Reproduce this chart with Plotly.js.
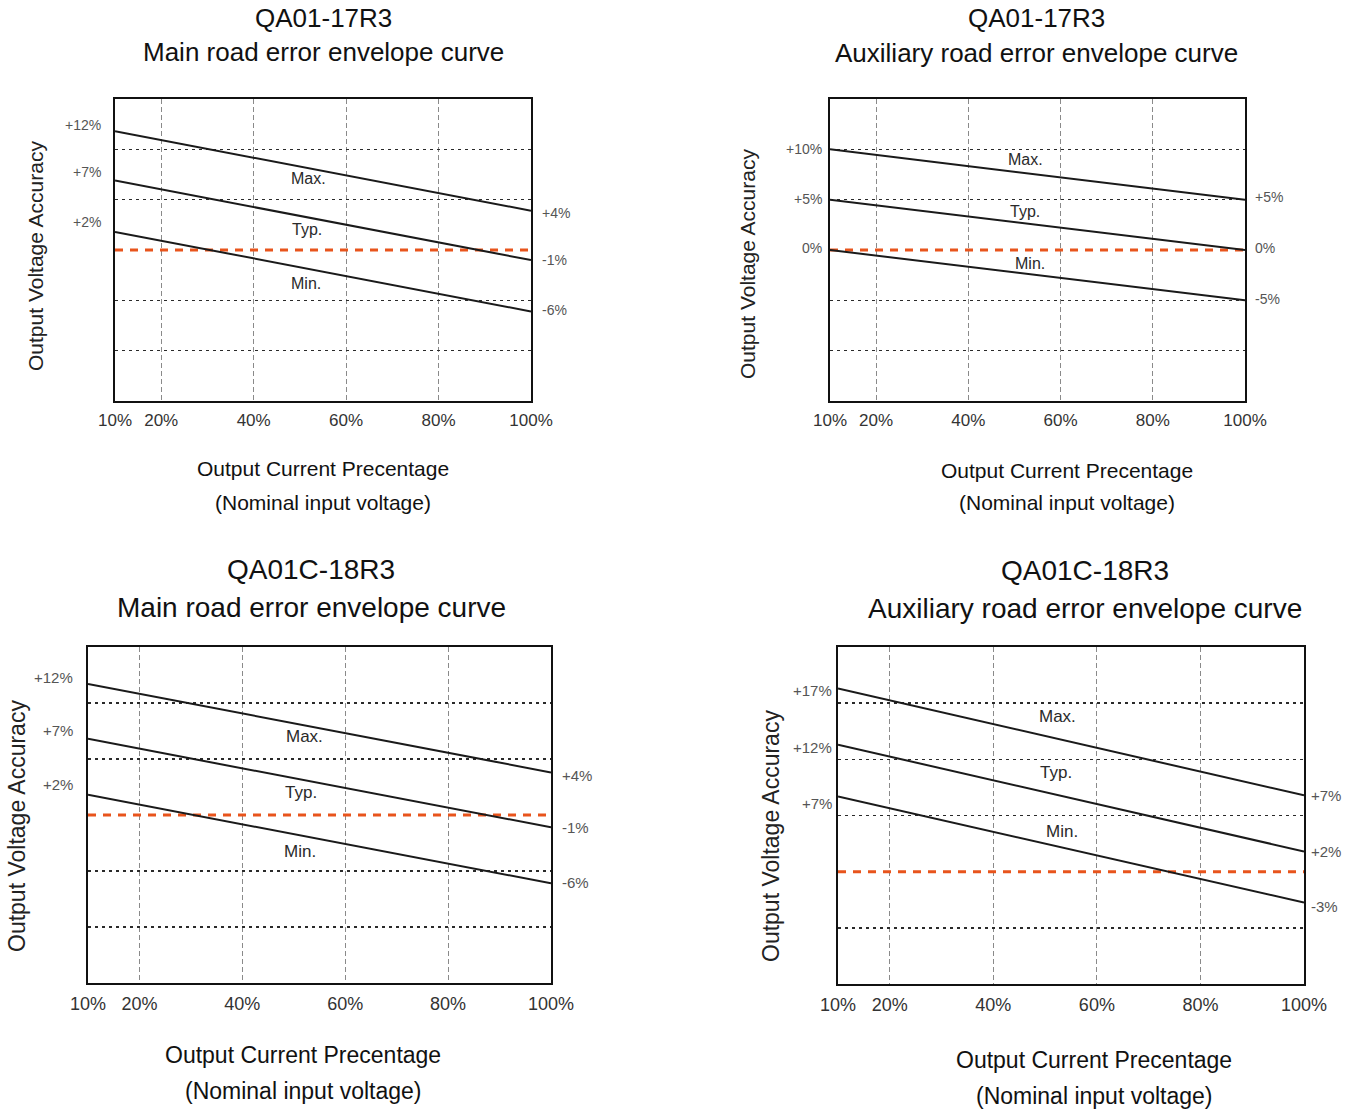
<!DOCTYPE html>
<html><head><meta charset="utf-8">
<script src="https://cdn.plot.ly/plotly-3.0.1.min.js"></script>
<style>html,body{margin:0;padding:0;background:#fff}</style>
</head><body><div id="chart" style="width:1353px;height:1112px"></div>
<script>
// ---------- data ----------
const loadPct = [10, 100];                       // output current percentage (line ends)
const xTickVals = [10, 20, 40, 60, 80, 100];
const xTickText = ['10%', '20%', '40%', '60%', '80%', '100%'];
const seriesNames = ['Max.', 'Typ.', 'Min.'];
const baseline = [0, 0];

// QA01-17R3 main road
const p1Max = [11.8, 3.9], p1Typ = [6.9, -1.0], p1Min = [1.8, -6.1];
const p1LeftText = ['+12%', '+7%', '+2%'], p1RightText = ['+4%', '-1%', '-6%'];
// QA01-17R3 auxiliary road
const p2Max = [10, 5], p2Typ = [5, 0], p2Min = [0, -5];
const p2LeftText = ['+10%', '+5%', '0%'], p2RightText = ['+5%', '0%', '-5%'];
// QA01C-18R3 main road
const p3Max = [11.7, 3.8], p3Typ = [6.8, -1.1], p3Min = [1.8, -6.1];
const p3LeftText = ['+12%', '+7%', '+2%'], p3RightText = ['+4%', '-1%', '-6%'];
// QA01C-18R3 auxiliary road
const p4Max = [16.3, 6.8], p4Typ = [11.3, 1.8], p4Min = [6.7, -2.75];
const p4LeftText = ['+17%', '+12%', '+7%'], p4RightText = ['+7%', '+2%', '-3%'];

const titleModels = ['QA01-17R3', 'QA01-17R3', 'QA01C-18R3', 'QA01C-18R3'];
const titleCurves = ['Main road error envelope curve', 'Auxiliary road error envelope curve',
                     'Main road error envelope curve', 'Auxiliary road error envelope curve'];
const yTitle = 'Output Voltage Accuracy';
const xTitle1 = 'Output Current Precentage';
const xTitle2 = '(Nominal input voltage)';

// ---------- layout config (positions / styles) ----------
const W = 1353, H = 1112;
const px = v => v / W, py = v => 1 - v / H;
const FONT = 'Liberation Sans, Arial, sans-serif';
const NARROW = 'Liberation Sans Narrow, Arial Narrow, Liberation Sans, Arial, sans-serif';

const panels = [
  { series: [p1Max, p1Typ, p1Min], left: p1LeftText, right: p1RightText,
    box: [115, 531, 99, 401], yrange: [-15, 15], grid: [-10, -5, 5, 10],
    title: [323, 18, 52, 26], ytitle: [35, 256, 21], xtitle: [323, 469, 503, 21],
    tickSize: 17, lblSize: 16, edgeSize: 14,
    lblPos: [[51.8, 7.1], [51.5, 2.0], [51.3, -3.3]],
    leftShift: [6, 9, 10], rightShift: [-2, 0, 1], leftX: -12, rightX: 9 },
  { series: [p2Max, p2Typ, p2Min], left: p2LeftText, right: p2RightText,
    box: [830, 1245, 99, 401], yrange: [-15, 15], grid: [-10, -5, 5, 10],
    title: [1036, 18, 53, 26], ytitle: [748, 264, 21], xtitle: [1067, 470, 503, 21],
    tickSize: 17, lblSize: 16, edgeSize: 14,
    lblPos: [[52.5, 9.0], [52.3, 3.8], [53.4, -1.3]],
    leftShift: [0, 1, 2], rightShift: [3, 2, 1], leftX: -6, rightX: 8 },
  { series: [p3Max, p3Typ, p3Min], left: p3LeftText, right: p3RightText,
    box: [88, 551, 647, 983], yrange: [-15, 15], grid: [-10, -5, 5, 10],
    title: [311, 569, 607, 28], ytitle: [17, 826, 23], xtitle: [303, 1055, 1091, 23],
    tickSize: 18, lblSize: 17, edgeSize: 15,
    lblPos: [[52, 7.0], [51.4, 2.0], [51.2, -3.3]],
    leftShift: [6, 8, 10], rightShift: [-3, 0, 1], leftX: -13, rightX: 9 },
  { series: [p4Max, p4Typ, p4Min], left: p4LeftText, right: p4RightText,
    box: [838, 1304, 647, 984], yrange: [-10, 20], grid: [-5, 5, 10, 15],
    title: [1085, 570, 608, 28], ytitle: [771, 836, 23], xtitle: [1094, 1060, 1096, 23],
    tickSize: 18, lblSize: 17, edgeSize: 15,
    lblPos: [[52.3, 13.8], [52.1, 8.8], [53.3, 3.6]],
    leftShift: [-2, -3, -7], rightShift: [0, 0, -4], leftX: -4, rightX: 5 }
];

const traces = [];
const layout = {
  width: W, height: H, margin: { l: 0, r: 0, t: 0, b: 0 },
  paper_bgcolor: '#fff', plot_bgcolor: '#fff', showlegend: false,
  font: { family: FONT, color: '#222' },
  annotations: []
};

panels.forEach((p, i) => {
  const n = i + 1;
  const xa = 'x' + (n === 1 ? '' : n), ya = 'y' + (n === 1 ? '' : n);
  const xk = 'xaxis' + (n === 1 ? '' : n), yk = 'yaxis' + (n === 1 ? '' : n);
  layout[xk] = {
    domain: [px(p.box[0]), px(p.box[1])], anchor: ya, range: [10, 100],
    tickmode: 'array', tickvals: xTickVals, ticktext: xTickText,
    ticks: '', ticklabelstandoff: 3,
    tickfont: { family: FONT, size: p.tickSize, color: '#333' },
    showgrid: true, gridcolor: '#8a8a8a', gridwidth: 1, griddash: '5px,3px',
    zeroline: false, showline: true, mirror: true, linecolor: '#111', linewidth: 2,
    fixedrange: true
  };
  layout[yk] = {
    domain: [py(p.box[3]), py(p.box[2])], anchor: xa, range: p.yrange,
    tickmode: 'array', tickvals: p.grid, showticklabels: false, ticks: '',
    showgrid: true, gridcolor: '#2a2a2a', gridwidth: 1.6, griddash: '3px,4px',
    zeroline: false, showline: true, mirror: true, linecolor: '#111', linewidth: 2,
    fixedrange: true
  };
  // red reference line
  traces.push({ x: loadPct, y: baseline, xaxis: xa, yaxis: ya, mode: 'lines',
    line: { color: '#E8541C', width: 3, dash: '8px,7px' }, hoverinfo: 'skip' });
  // envelope lines
  p.series.forEach((s, k) => {
    traces.push({ x: loadPct, y: s, xaxis: xa, yaxis: ya, mode: 'lines', name: seriesNames[k],
      line: { color: '#1a1a1a', width: 2 } });
    layout.annotations.push({ xref: xa, yref: ya, x: p.lblPos[k][0], y: p.lblPos[k][1],
      text: seriesNames[k], showarrow: false, xanchor: 'center', yanchor: 'middle',
      font: { family: FONT, size: p.lblSize, color: '#2a2a2a' } });
    layout.annotations.push({ xref: xa, yref: ya, x: loadPct[0], y: s[0], text: p.left[k],
      showarrow: false, xanchor: 'right', yanchor: 'middle', xshift: p.leftX, yshift: p.leftShift[k],
      font: { family: NARROW, size: p.edgeSize, color: '#555' } });
    layout.annotations.push({ xref: xa, yref: ya, x: loadPct[1], y: s[1], text: p.right[k],
      showarrow: false, xanchor: 'left', yanchor: 'middle', xshift: p.rightX, yshift: p.rightShift[k],
      font: { family: NARROW, size: p.edgeSize, color: '#555' } });
  });
  // titles
  const t = p.title;
  layout.annotations.push({ xref: 'paper', yref: 'paper', x: px(t[0]), y: py(t[1]), text: titleModels[i],
    showarrow: false, xanchor: 'center', yanchor: 'middle', font: { family: FONT, size: t[3], color: '#111' } });
  layout.annotations.push({ xref: 'paper', yref: 'paper', x: px(t[0]), y: py(t[2]), text: titleCurves[i],
    showarrow: false, xanchor: 'center', yanchor: 'middle', font: { family: FONT, size: t[3], color: '#111' } });
  // y title
  const yt = p.ytitle;
  layout.annotations.push({ xref: 'paper', yref: 'paper', x: px(yt[0]), y: py(yt[1]), text: yTitle,
    textangle: -90, showarrow: false, xanchor: 'center', yanchor: 'middle',
    font: { family: FONT, size: yt[2], color: '#222' } });
  // x title
  const xt = p.xtitle;
  layout.annotations.push({ xref: 'paper', yref: 'paper', x: px(xt[0]), y: py(xt[1]), text: xTitle1,
    showarrow: false, xanchor: 'center', yanchor: 'middle', font: { family: FONT, size: xt[3], color: '#111' } });
  layout.annotations.push({ xref: 'paper', yref: 'paper', x: px(xt[0]), y: py(xt[2]), text: xTitle2,
    showarrow: false, xanchor: 'center', yanchor: 'middle', font: { family: FONT, size: xt[3], color: '#111' } });
});

Plotly.newPlot('chart', traces, layout, { staticPlot: true, displayModeBar: false });
</script>
</body></html>
